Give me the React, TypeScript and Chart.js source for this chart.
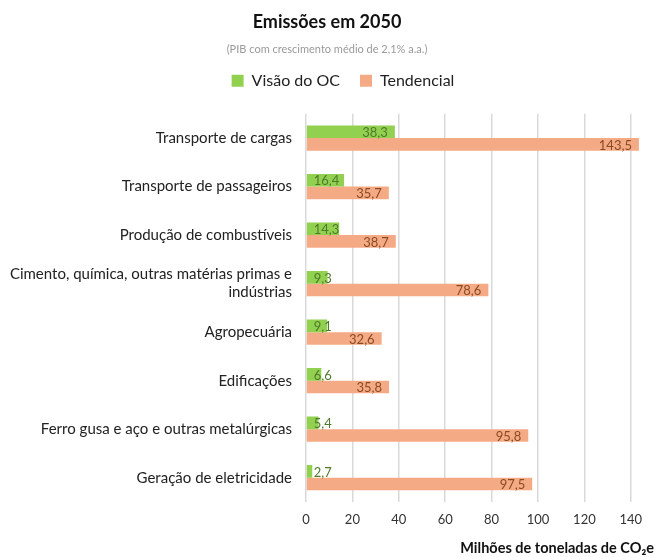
import React, { useEffect, useRef } from "react";
import { Chart, registerables } from "chart.js";

Chart.register(...registerables);

const categories: (string | string[])[] = [
  "Transporte de cargas",
  "Transporte de passageiros",
  "Produção de combustíveis",
  ["Cimento, química, outras matérias primas e", "indústrias"],
  "Agropecuária",
  "Edificações",
  "Ferro gusa e aço e outras metalúrgicas",
  "Geração de eletricidade",
];
const visaoOC = [38.3, 16.4, 14.3, 9.3, 9.1, 6.6, 5.4, 2.7];
const tendencial = [143.5, 35.7, 38.7, 78.6, 32.6, 35.8, 95.8, 97.5];
const xTicks = [0, 20, 40, 60, 80, 100, 120, 140];

const FONT = "Lato, 'Open Sans', sans-serif";

const labelPlugin = {
  id: "barValueLabels",
  afterDatasetsDraw(chart: any) {
    const ctx = chart.ctx;
    const colors = ["#4f7a2c", "#8a4a22"];
    ctx.save();
    ctx.font = `13px ${FONT}`;
    ctx.textBaseline = "middle";
    ctx.textAlign = "left";
    chart.data.datasets.forEach((ds: any, di: number) => {
      const meta = chart.getDatasetMeta(di);
      meta.data.forEach((bar: any, i: number) => {
        const txt = Number(ds.data[i]).toFixed(1).replace(".", ",");
        const w = ctx.measureText(txt).width;
        const x = Math.max(bar.x - 7 - w, bar.base + 7);
        ctx.fillStyle = colors[di];
        ctx.fillText(txt, x, bar.y + 1);
      });
    });
    ctx.restore();
  },
};

const LEGEND_SHIFT_Y = 12;
const LEGEND_SHIFT_X = 16;
const legendGapPlugin = {
  id: "legendGap",
  beforeInit(chart: any) {
    const legend = chart.legend;
    if (!legend) return;
    const orig = legend.fit;
    legend.fit = function () {
      orig.call(this);
      this.height += 3;
    };
  },
  afterLayout(chart: any) {
    const legend = chart.legend;
    if (!legend) return;
    legend.top -= LEGEND_SHIFT_Y;
    legend.bottom -= LEGEND_SHIFT_Y;
    legend.left += LEGEND_SHIFT_X;
    legend.right += LEGEND_SHIFT_X;
  },
};

export default function App() {
  const ref = useRef<HTMLCanvasElement | null>(null);
  useEffect(() => {
    if (!ref.current) return;
    const chart = new Chart(ref.current, {
      type: "bar",
      data: {
        labels: categories,
        datasets: [
          {
            label: "Visão do OC",
            data: visaoOC,
            backgroundColor: "#92d050",
            categoryPercentage: 0.52,
            barPercentage: 1,
          },
          {
            label: "Tendencial",
            data: tendencial,
            backgroundColor: "#f4aa85",
            categoryPercentage: 0.52,
            barPercentage: 1,
          },
        ],
      },
      plugins: [labelPlugin, legendGapPlugin],
      options: {
        indexAxis: "y",
        animation: false,
        responsive: false,
        maintainAspectRatio: false,
        layout: { padding: { left: 0, right: 3, top: 0, bottom: 0 } },
        plugins: {
          title: {
            display: true,
            text: "Emissões em 2050",
            color: "#111",
            font: { family: FONT, size: 18, weight: "bold" },
            padding: { top: 11, bottom: 10 },
          },
          subtitle: {
            display: true,
            text: "(PIB com crescimento médio de 2,1% a.a.)",
            color: "#9a9a9a",
            font: { family: FONT, size: 11 },
            padding: { top: 0, bottom: 9 },
          },
          legend: {
            display: true,
            labels: {
              color: "#222",
              font: { family: FONT, size: 16 },
              boxWidth: 12,
              boxHeight: 12,
              padding: 20,
            },
          },
          tooltip: { enabled: false },
        },
        scales: {
          y: {
            grid: { display: false, drawTicks: false },
            border: { display: false },
            ticks: {
              color: "#222",
              font: { family: FONT, size: 15 },
              padding: 14,
            },
            afterFit(scale: any) {
              scale.width = 306;
            },
          },
          x: {
            min: 0,
            max: 150,
            grid: { color: "#d9d9d9", lineWidth: 1.5, drawTicks: false },
            border: { display: false },
            ticks: {
              stepSize: 20,
              includeBounds: false,
              color: "#333",
              font: { family: FONT, size: 13 },
              padding: 10,
            },
            afterBuildTicks(scale: any) {
              scale.ticks = xTicks.map((v) => ({ value: v }));
            },
            afterFit(scale: any) {
              scale.height = 55;
            },
            title: {
              display: true,
              text: "Milhões de toneladas de CO₂e",
              align: "end",
              color: "#111",
              font: { family: FONT, size: 14.5, weight: "bold" },
              padding: { top: 12, bottom: 0 },
            },
          },
        },
      },
    });
    return () => chart.destroy();
  }, []);
  return (
    <div style={{ position: "fixed", left: 0, top: 0, width: 657, height: 557, background: "#fff" }}>
      <canvas ref={ref} width={657} height={557} />
    </div>
  );
}
